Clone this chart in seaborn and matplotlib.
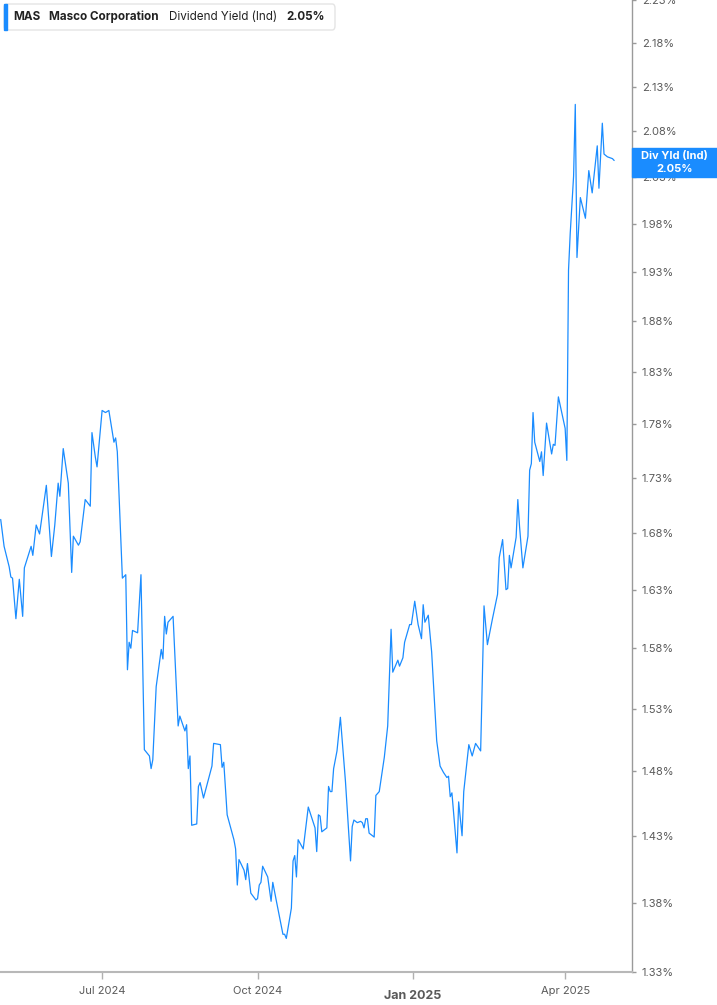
import pandas as pd
import matplotlib
matplotlib.use("Agg")
import matplotlib.pyplot as plt
import matplotlib.ticker as mticker
import matplotlib.transforms as mtransforms
from matplotlib.patches import Rectangle, FancyBboxPatch
import seaborn as sns

# Dividend yield (Ind) of MAS
dates = [
    "2024-05-02", "2024-05-04", "2024-05-07", "2024-05-08", "2024-05-09", "2024-05-11",
    "2024-05-13", "2024-05-15", "2024-05-16", "2024-05-20", "2024-05-21", "2024-05-23",
    "2024-05-25", "2024-05-29", "2024-06-01", "2024-06-03", "2024-06-05", "2024-06-06",
    "2024-06-08", "2024-06-11", "2024-06-13", "2024-06-14", "2024-06-17", "2024-06-18",
    "2024-06-21", "2024-06-24", "2024-06-25", "2024-06-27", "2024-06-28", "2024-07-01",
    "2024-07-03", "2024-07-05", "2024-07-08", "2024-07-09", "2024-07-10", "2024-07-13",
    "2024-07-15", "2024-07-16", "2024-07-17", "2024-07-18", "2024-07-19", "2024-07-22",
    "2024-07-24", "2024-07-26", "2024-07-29", "2024-07-30", "2024-07-31", "2024-08-02",
    "2024-08-05", "2024-08-06", "2024-08-07", "2024-08-08", "2024-08-09", "2024-08-12",
    "2024-08-15", "2024-08-16", "2024-08-19", "2024-08-20", "2024-08-21", "2024-08-22",
    "2024-08-23", "2024-08-26", "2024-08-27", "2024-08-28", "2024-08-30", "2024-09-04",
    "2024-09-05", "2024-09-09", "2024-09-10", "2024-09-11", "2024-09-13", "2024-09-17",
    "2024-09-18", "2024-09-19", "2024-09-20", "2024-09-23", "2024-09-24", "2024-09-25",
    "2024-09-27", "2024-09-30", "2024-10-01", "2024-10-02", "2024-10-03", "2024-10-04",
    "2024-10-07", "2024-10-09", "2024-10-10", "2024-10-12", "2024-10-16", "2024-10-17",
    "2024-10-18", "2024-10-21", "2024-10-22", "2024-10-23", "2024-10-24", "2024-10-25",
    "2024-10-28", "2024-10-31", "2024-11-04", "2024-11-05", "2024-11-06", "2024-11-07",
    "2024-11-08", "2024-11-11", "2024-11-12", "2024-11-13", "2024-11-14", "2024-11-15",
    "2024-11-17", "2024-11-19", "2024-11-22", "2024-11-25", "2024-11-26", "2024-11-27",
    "2024-11-29", "2024-12-01", "2024-12-02", "2024-12-03", "2024-12-04", "2024-12-05",
    "2024-12-06", "2024-12-09", "2024-12-10", "2024-12-12", "2024-12-15", "2024-12-17",
    "2024-12-19", "2024-12-20", "2024-12-23", "2024-12-24", "2024-12-26", "2024-12-27",
    "2024-12-30", "2024-12-31", "2025-01-02", "2025-01-04", "2025-01-06", "2025-01-07",
    "2025-01-08", "2025-01-10", "2025-01-12", "2025-01-15", "2025-01-17", "2025-01-19",
    "2025-01-21", "2025-01-22", "2025-01-23", "2025-01-24", "2025-01-27", "2025-01-28",
    "2025-01-30", "2025-01-31", "2025-02-03", "2025-02-05", "2025-02-07", "2025-02-10",
    "2025-02-12", "2025-02-14", "2025-02-17", "2025-02-20", "2025-02-21", "2025-02-23",
    "2025-02-25", "2025-02-26", "2025-02-27", "2025-02-28", "2025-03-03", "2025-03-04",
    "2025-03-05", "2025-03-07", "2025-03-10", "2025-03-11", "2025-03-12", "2025-03-13",
    "2025-03-14", "2025-03-17", "2025-03-18", "2025-03-19", "2025-03-21", "2025-03-24",
    "2025-03-25", "2025-03-26", "2025-03-28", "2025-04-01", "2025-04-02", "2025-04-03",
    "2025-04-04", "2025-04-06", "2025-04-07", "2025-04-08", "2025-04-10", "2025-04-13",
    "2025-04-15", "2025-04-17", "2025-04-20", "2025-04-21", "2025-04-23", "2025-04-24",
    "2025-04-26", "2025-04-29", "2025-04-30",
]
div_yield = [
    1.692, 1.668, 1.650, 1.641, 1.640, 1.605,
    1.639, 1.607, 1.649, 1.668, 1.660, 1.687,
    1.679, 1.723, 1.659, 1.687, 1.725, 1.713,
    1.757, 1.725, 1.645, 1.677, 1.669, 1.672,
    1.710, 1.704, 1.772, 1.749, 1.740, 1.793,
    1.791, 1.793, 1.763, 1.767, 1.754, 1.640,
    1.643, 1.562, 1.585, 1.580, 1.595, 1.593,
    1.643, 1.497, 1.492, 1.482, 1.489, 1.548,
    1.579, 1.571, 1.607, 1.592, 1.602, 1.607,
    1.516, 1.524, 1.512, 1.517, 1.482, 1.492,
    1.438, 1.439, 1.468, 1.471, 1.459, 1.484,
    1.502, 1.501, 1.483, 1.487, 1.446, 1.427,
    1.420, 1.393, 1.412, 1.404, 1.397, 1.409,
    1.387, 1.382, 1.383, 1.393, 1.395, 1.407,
    1.399, 1.381, 1.395, 1.382, 1.357, 1.357,
    1.354, 1.376, 1.411, 1.415, 1.399, 1.427,
    1.420, 1.452, 1.436, 1.418, 1.446, 1.445,
    1.433, 1.436, 1.468, 1.464, 1.464, 1.482,
    1.496, 1.523, 1.472, 1.411, 1.437, 1.442,
    1.440, 1.441, 1.440, 1.436, 1.443, 1.443,
    1.432, 1.429, 1.461, 1.464, 1.491, 1.516,
    1.596, 1.560, 1.570, 1.565, 1.572, 1.585,
    1.600, 1.600, 1.620, 1.600, 1.588, 1.617,
    1.602, 1.608, 1.577, 1.504, 1.484, 1.479,
    1.475, 1.476, 1.460, 1.463, 1.417, 1.456,
    1.430, 1.464, 1.501, 1.492, 1.502, 1.496,
    1.616, 1.583, 1.605, 1.626, 1.658, 1.674,
    1.630, 1.631, 1.660, 1.649, 1.676, 1.710,
    1.686, 1.649, 1.677, 1.737, 1.743, 1.791,
    1.763, 1.745, 1.754, 1.732, 1.781, 1.752,
    1.761, 1.760, 1.806, 1.776, 1.746, 1.932,
    1.970, 2.031, 2.110, 1.945, 2.008, 1.986,
    2.037, 2.013, 2.064, 2.018, 2.089, 2.055,
    2.052, 2.050, 2.048,
]

y_ticks = [1.33, 1.38, 1.43, 1.48, 1.53, 1.58, 1.63, 1.68, 1.73, 1.78,
           1.83, 1.88, 1.93, 1.98, 2.03, 2.08, 2.13, 2.18, 2.23]
x_tick_dates = ["2024-07-01", "2024-10-01", "2025-01-01", "2025-04-01"]
x_tick_labels = ["Jul 2024", "Oct 2024", "Jan 2025", "Apr 2025"]

ticker_sym = "MAS"
company = "Masco Corporation"
metric = "Dividend Yield (Ind)"
last_label = "Div Yld (Ind)"

df = pd.DataFrame({"date": pd.to_datetime(dates), "value": div_yield})
last_val = df["value"].iloc[-1]

LINE = "#1a8cff"
GREY = "#5a5a5a"

sns.set_style("white")
plt.rcParams["font.family"] = ["Inter", "DejaVu Sans"]

fig = plt.figure(figsize=(7.17, 10.05), dpi=100)
ax = fig.add_axes([0.0, 0.0328, 0.8815, 0.9672])

sns.lineplot(data=df, x="date", y="value", ax=ax, color=LINE, linewidth=0.9)

ax.set_yscale("log")
ax.set_ylim(1.33, 2.2305)
ax.set_xlim(pd.Timestamp("2024-05-01 14:00"), pd.Timestamp("2025-05-10 14:00"))

ax.yaxis.tick_right()
ax.yaxis.set_major_locator(mticker.FixedLocator(y_ticks))
ax.yaxis.set_minor_locator(mticker.NullLocator())
ax.yaxis.set_major_formatter(mticker.FuncFormatter(lambda v, p: f"{v:.2f}%"))
ax.tick_params(axis="y", which="major", length=3, width=1, color="#9a9a9a",
               labelsize=8, labelcolor=GREY, pad=4, right=True, left=False)

ax.set_xticks(pd.to_datetime(x_tick_dates))
ax.set_xticklabels(x_tick_labels)
ax.tick_params(axis="x", length=5, width=1, color="#b0b0b0", labelsize=8,
               labelcolor=GREY, pad=5, bottom=True)
for lbl in ax.get_xticklabels():
    if lbl.get_text().startswith("Jan"):
        lbl.set_fontweight("bold")
        lbl.set_fontsize(9)
        lbl.set_y(-0.004)

ax.set_xlabel("")
ax.set_ylabel("")
for side in ["top", "left"]:
    ax.spines[side].set_visible(False)
ax.spines["right"].set_color("#9a9a9a")
ax.spines["bottom"].set_color("#b8b8b8")
ax.spines["bottom"].set_linewidth(1.5)
ax.spines["right"].set_linewidth(1.0)

# last value tag on the right axis
blend = mtransforms.blended_transform_factory(ax.transAxes, ax.transData)
ax.add_patch(Rectangle((1.0, last_val * 0.9912), 0.135, last_val * 0.0155,
                       transform=blend, color=LINE, clip_on=False, zorder=5))
ax.text(1.0675, last_val * 1.0025, last_label, transform=blend, ha="center", va="center",
        color="white", fontsize=8, fontweight="bold", zorder=6)
ax.text(1.0675, last_val * 0.9954, f"{last_val:.2f}%", transform=blend, ha="center",
        va="center", color="white", fontsize=8, fontweight="bold", zorder=6)

# legend box at top left
W, H = 717, 1005
fig.patches.append(FancyBboxPatch((4 / W, 1 - 30 / H), 331 / W, 26 / H,
                                  boxstyle="round,pad=0,rounding_size=0.004",
                                  transform=fig.transFigure, facecolor="white",
                                  edgecolor="#e4e4e4", linewidth=1))
fig.patches.append(Rectangle((4 / W, 1 - 30 / H), 3 / W, 26 / H,
                             transform=fig.transFigure, color=LINE))
ty = 1 - 17 / H
fig.text(13 / W, ty, ticker_sym, fontsize=8.4, fontweight="bold", color="#222222", va="center")
fig.text(49 / W, ty, company, fontsize=8.4, fontweight="bold", color="#222222", va="center")
fig.text(169 / W, ty, metric, fontsize=8.4, color="#222222", va="center")
fig.text(286 / W, ty, f"{last_val:.2f}%", fontsize=8.4, fontweight="bold", color="#222222",
         va="center")

fig.savefig("out.png", dpi=100)
